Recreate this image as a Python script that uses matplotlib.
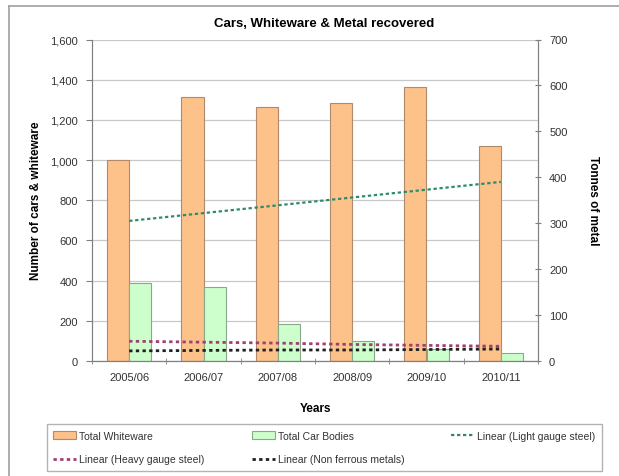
import matplotlib
matplotlib.use("Agg")
import matplotlib.pyplot as plt
from matplotlib.patches import Patch
from matplotlib.lines import Line2D
import numpy as np

plt.rcParams['font.family'] = ['Liberation Sans', 'DejaVu Sans']

years = ["2005/06", "2006/07", "2007/08", "2008/09", "2009/10", "2010/11"]
total_whiteware = [1000, 1315, 1265, 1285, 1365, 1070]
total_car_bodies = [390, 368, 183, 102, 62, 38]

# Linear trend values (tonnes) at each year
trend_light_gauge = [305, 322, 339, 356, 373, 390]
trend_heavy_gauge = [43, 41, 39, 36, 34, 32]
trend_non_ferrous = [22, 23, 24, 24, 25, 26]

left_ticks = [0, 200, 400, 600, 800, 1000, 1200, 1400, 1600]
right_ticks = [0, 100, 200, 300, 400, 500, 600, 700]

c_white = "#FDC18A"
c_white_edge = "#B08A6A"
c_car = "#CCFFCC"
c_car_edge = "#8AA88A"
c_light = "#2E8B6E"
c_heavy = "#A0406E"
c_nonfer = "#202020"

fig = plt.figure(figsize=(6.19, 4.77), dpi=100)
ax = fig.add_axes([92 / 619, 1 - 362 / 477, (538 - 92) / 619, (362 - 40.5) / 477])
ax2 = ax.twinx()

x = np.arange(len(years))
w = 0.3
ax.bar(x - w / 2, total_whiteware, w, color=c_white, edgecolor=c_white_edge, linewidth=0.8, zorder=2)
ax.bar(x + w / 2, total_car_bodies, w, color=c_car, edgecolor=c_car_edge, linewidth=0.8, zorder=2)

ax.set_xlim(-0.5, len(years) - 0.5)
ax.set_ylim(0, 1600)
ax.set_yticks(left_ticks)
ax.set_yticklabels([f"{v:,}" for v in left_ticks])
ax.set_xticks(x)
ax.set_xticklabels(years)
ax.set_xticks(np.arange(len(years) + 1) - 0.5, minor=True)
ax.tick_params(axis='x', which='major', length=0, pad=8)
ax.tick_params(axis='x', which='minor', length=4, color="#808080", direction='inout')
ax.tick_params(axis='y', length=4, color="#808080", labelsize=8, labelcolor="#333333", pad=6)
ax.tick_params(axis='x', labelsize=8, labelcolor="#333333")
ax.yaxis.grid(True, color="#C8C8C8", linewidth=0.9, zorder=0)
ax.set_axisbelow(True)

ax2.set_ylim(0, 700)
ax2.set_yticks(right_ticks)
ax2.tick_params(axis='y', length=4, color="#808080", labelsize=8, labelcolor="#333333",
                direction='inout', pad=6)

ax2.plot(x, trend_light_gauge, color=c_light, linewidth=1.6, linestyle=(0, (1.5, 1.2)), zorder=3)
ax2.plot(x, trend_heavy_gauge, color=c_heavy, linewidth=2.0, linestyle=(0, (1.2, 1.2)), zorder=3)
ax2.plot(x, trend_non_ferrous, color=c_nonfer, linewidth=2.0, linestyle=(0, (1.2, 1.2)), zorder=3)

for a in (ax, ax2):
    for s in a.spines.values():
        s.set_color("#808080")
    a.spines['top'].set_visible(False)

ax.set_xlabel("Years", fontsize=8.5, fontweight='bold', labelpad=14)
ax.set_ylabel("Number of cars & whiteware", fontsize=8.5, fontweight='bold', labelpad=6)
ax2.set_ylabel("Tonnes of metal", fontsize=8.5, fontweight='bold', labelpad=14, rotation=-90,
               va='bottom')
fig.text(324 / 619, 1 - 24 / 477, "Cars, Whiteware & Metal recovered", fontsize=9.5,
         fontweight='bold', ha='center', va='center')

h_white = Patch(facecolor=c_white, edgecolor=c_white_edge, linewidth=0.8)
h_car = Patch(facecolor=c_car, edgecolor=c_car_edge, linewidth=0.8)
h_light = Line2D([], [], color=c_light, linewidth=1.6, linestyle=(0, (1.5, 1.2)))
h_heavy = Line2D([], [], color=c_heavy, linewidth=2.0, linestyle=(0, (1.2, 1.2)))
h_nonfer = Line2D([], [], color=c_nonfer, linewidth=2.0, linestyle=(0, (1.2, 1.2)))

# Legend fills column by column: arrange so rows read across
handles = [h_white, h_heavy, h_car, h_nonfer, h_light]
labels = ["Total Whiteware", "Linear (Heavy gauge steel)", "Total Car Bodies",
          "Linear (Non ferrous metals)", "Linear (Light gauge steel)"]
leg = fig.legend(handles, labels, ncol=3, loc='center',
                 bbox_to_anchor=(42 / 619, 1 - 473 / 477, (607 - 42) / 619, (473 - 424) / 477),
                 mode='expand', fontsize=7.5, frameon=True, fancybox=False,
                 handlelength=2.2, handletextpad=0.3, borderpad=0.6, labelspacing=1.3,
                 columnspacing=1.0)
leg.get_frame().set_edgecolor("#A0A0A0")
leg.get_frame().set_linewidth(1.0)
for t in leg.get_texts():
    t.set_color("#333333")

# Chart area border
fig.add_artist(Line2D([9 / 619, 9 / 619], [0, 1 - 7 / 477], color="#A0A0A0", linewidth=1.2,
                      transform=fig.transFigure))
fig.add_artist(Line2D([9 / 619, 1], [1 - 7 / 477, 1 - 7 / 477], color="#A0A0A0", linewidth=1.2,
                      transform=fig.transFigure))

fig.savefig("out.png", dpi=100)
